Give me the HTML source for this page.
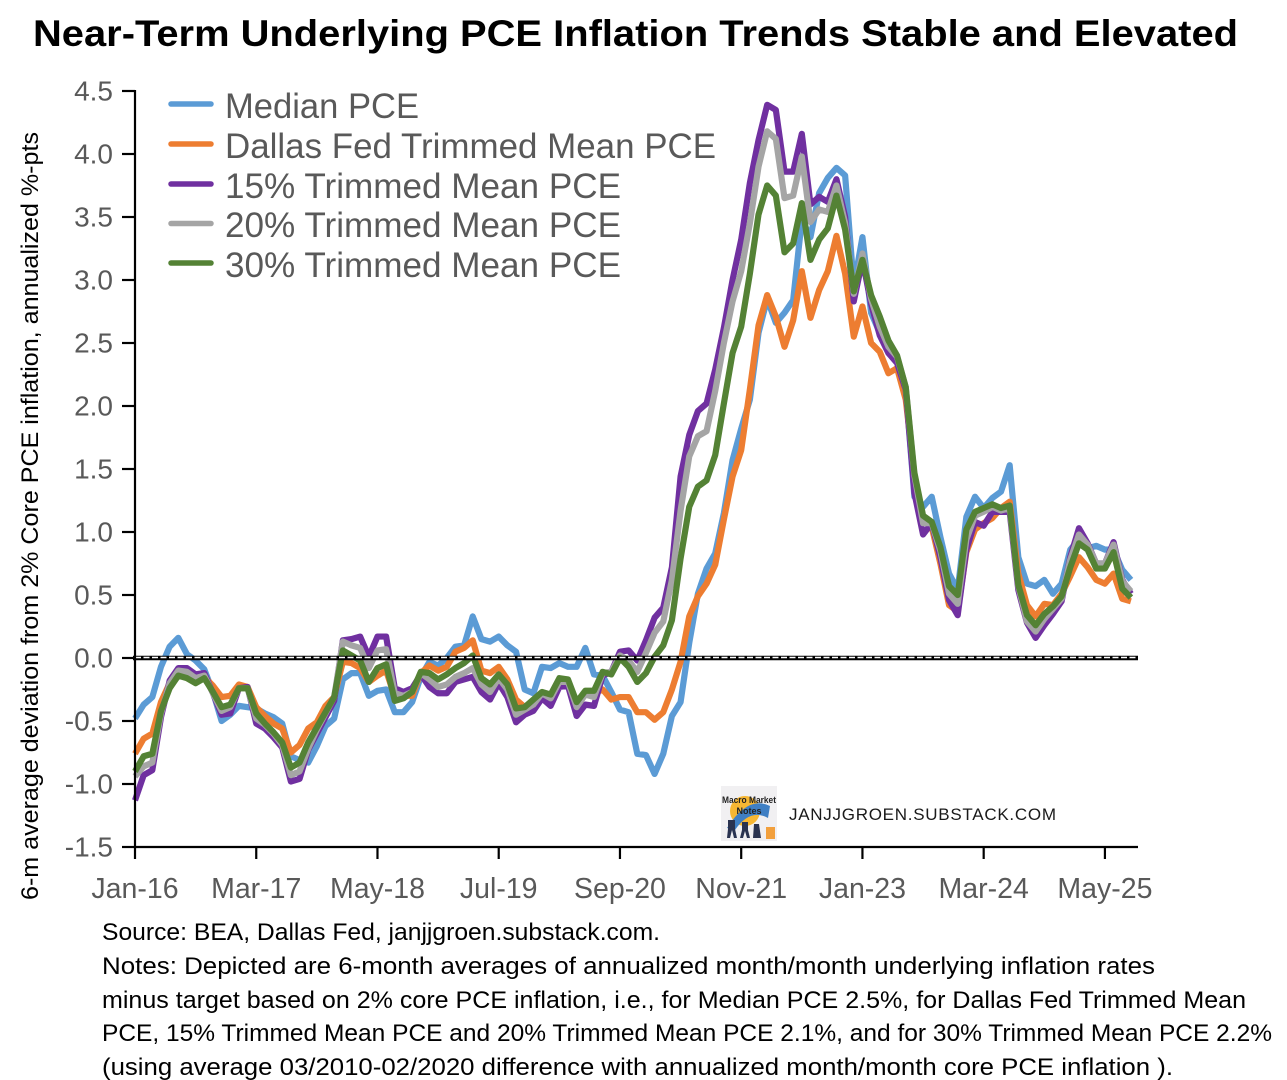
<!DOCTYPE html>
<html lang="en">
<head>
<meta charset="utf-8">
<title>Near-Term Underlying PCE Inflation Trends Stable and Elevated</title>
<style>
html,body{margin:0;padding:0;background:#fff;}
svg{display:block;}
text{font-family:"Liberation Sans",sans-serif;}
</style>
</head>
<body>
<svg id="chart" xmlns="http://www.w3.org/2000/svg" width="1287" height="1080" viewBox="0 0 1287 1080">
  <rect x="0" y="0" width="1287" height="1080" fill="#fff"/>
  <text x="33" y="46" font-size="37.5" font-weight="bold" fill="#000" textLength="1205" lengthAdjust="spacingAndGlyphs">Near-Term Underlying PCE Inflation Trends Stable and Elevated</text>
  <text transform="translate(38,900) rotate(-90)" font-size="24" fill="#000" textLength="768" lengthAdjust="spacingAndGlyphs">6-m average deviation from 2% Core PCE inflation, annualized %-pts</text>

  <g id="series-layer"></g>
  <g id="axis-layer"></g>

  <g>
    <g>
      <line x1="171" x2="211" y1="104" y2="104" stroke="#5B9BD5" stroke-width="5.5" stroke-linecap="round"/>
      <text x="225" y="118" font-size="35" fill="#595959" textLength="194" lengthAdjust="spacingAndGlyphs">Median PCE</text>
    </g>
    <g>
      <line x1="171" x2="211" y1="144" y2="144" stroke="#ED7D31" stroke-width="5.5" stroke-linecap="round"/>
      <text x="225" y="158" font-size="35" fill="#595959" textLength="491" lengthAdjust="spacingAndGlyphs">Dallas Fed Trimmed Mean PCE</text>
    </g>
    <g>
      <line x1="171" x2="211" y1="184" y2="184" stroke="#7030A0" stroke-width="5.5" stroke-linecap="round"/>
      <text x="225" y="198" font-size="35" fill="#595959" textLength="396" lengthAdjust="spacingAndGlyphs">15% Trimmed Mean PCE</text>
    </g>
    <g>
      <line x1="171" x2="211" y1="223.5" y2="223.5" stroke="#A5A5A5" stroke-width="5.5" stroke-linecap="round"/>
      <text x="225" y="237" font-size="35" fill="#595959" textLength="396" lengthAdjust="spacingAndGlyphs">20% Trimmed Mean PCE</text>
    </g>
    <g>
      <line x1="171" x2="211" y1="263" y2="263" stroke="#548235" stroke-width="5.5" stroke-linecap="round"/>
      <text x="225" y="277" font-size="35" fill="#595959" textLength="396" lengthAdjust="spacingAndGlyphs">30% Trimmed Mean PCE</text>
    </g>
  </g>

  <g>
    <rect x="721" y="786" width="56" height="55" fill="#f1f0f2"/>
    <circle cx="745" cy="811" r="15" fill="#f7b733"/>
    <path d="M727 828 Q748 795 770 806 L768 818 Q750 808 735 830 Z" fill="#3f7fc4"/>
    <rect x="766" y="827" width="9" height="12" fill="#f2a03d"/>
    <path d="M728 820h7v9l2 9h-3l-2-8-2 8h-3l1-9z M742 822h6v8l2 8h-3l-2-7-2 7h-3l2-8z M754 824h5l2 14h-8z" fill="#2a3350"/>
    <text x="749" y="803" font-size="9" font-weight="bold" text-anchor="middle" fill="#222" textLength="54" lengthAdjust="spacingAndGlyphs">Macro Market</text>
    <text x="749" y="814" font-size="9" font-weight="bold" text-anchor="middle" fill="#222" textLength="25" lengthAdjust="spacingAndGlyphs">Notes</text>
  </g>
  <text x="789" y="820" font-size="17" fill="#1a1a1a" textLength="267" lengthAdjust="spacing">JANJJGROEN.SUBSTACK.COM</text>

  <g font-size="24" fill="#000">
    <text x="102" y="940" textLength="558" lengthAdjust="spacingAndGlyphs">Source: BEA, Dallas Fed, janjjgroen.substack.com.</text>
    <text x="102" y="974" textLength="1053" lengthAdjust="spacingAndGlyphs">Notes: Depicted are 6-month averages of annualized month/month underlying inflation rates</text>
    <text x="102" y="1008" textLength="1144" lengthAdjust="spacingAndGlyphs">minus target based on 2% core PCE inflation, i.e., for Median PCE 2.5%, for Dallas Fed Trimmed Mean</text>
    <text x="102" y="1041" textLength="1170" lengthAdjust="spacingAndGlyphs">PCE, 15% Trimmed Mean PCE and 20% Trimmed Mean PCE 2.1%, and for 30% Trimmed Mean PCE 2.2%</text>
    <text x="102" y="1075" textLength="1071" lengthAdjust="spacingAndGlyphs">(using average 03/2010-02/2020 difference with annualized month/month core PCE inflation ).</text>
  </g>
</svg>
<script>
const medianPce = [-0.48,-0.37,-0.31,-0.07,0.09,0.16,0.03,-0.02,-0.09,-0.27,-0.50,-0.45,-0.38,-0.39,-0.40,-0.44,-0.47,-0.52,-0.78,-0.81,-0.83,-0.70,-0.54,-0.48,-0.17,-0.12,-0.12,-0.30,-0.26,-0.25,-0.43,-0.43,
  -0.35,-0.15,-0.03,-0.06,0.00,0.09,0.10,0.33,0.15,0.13,0.17,0.10,0.05,-0.25,-0.28,-0.07,-0.08,-0.04,-0.07,-0.07,0.08,-0.13,-0.14,-0.27,-0.41,-0.43,-0.76,-0.77,-0.92,-0.76,-0.46,-0.35,
  0.12,0.51,0.71,0.83,1.15,1.57,1.82,2.05,
  2.58,2.85,2.66,2.74,2.84,3.48,3.34,3.69,3.81,3.89,3.83,2.95,3.34,2.74,2.58,2.44,2.37,2.13,
  1.28,1.20,1.28,0.96,0.67,0.54,1.12,1.28,1.19,1.27,1.32,1.53,0.80,0.59,0.57,0.62,0.51,0.59,0.86,0.94,0.87,0.89,0.86,0.86,0.70,0.62];
const dallasTrimmed = [-0.76,-0.64,-0.60,-0.35,-0.20,-0.13,-0.15,-0.19,-0.15,-0.22,-0.31,-0.30,-0.21,-0.23,-0.39,-0.46,-0.52,-0.56,-0.75,-0.69,-0.56,-0.51,-0.38,-0.31,-0.03,-0.04,-0.08,-0.19,-0.14,-0.10,-0.31,-0.30,
  -0.30,-0.12,-0.06,-0.10,-0.07,0.05,0.08,0.14,-0.10,-0.12,-0.07,-0.17,-0.33,-0.39,-0.35,-0.32,-0.31,-0.17,-0.19,-0.36,-0.27,-0.28,-0.25,-0.33,-0.31,-0.31,-0.43,-0.43,-0.49,-0.43,-0.25,-0.03,
  0.33,0.49,0.59,0.74,1.10,1.44,1.65,2.13,
  2.64,2.88,2.71,2.47,2.68,3.07,2.70,2.92,3.07,3.35,3.05,2.55,2.79,2.50,2.43,2.26,2.30,2.05,
  1.45,1.10,1.04,0.75,0.42,0.37,0.84,1.02,1.07,1.11,1.19,1.24,0.67,0.42,0.33,0.43,0.42,0.51,0.65,0.80,0.72,0.62,0.59,0.67,0.47,0.45];
const trimmed15 = [-1.13,-0.93,-0.89,-0.47,-0.18,-0.08,-0.08,-0.13,-0.12,-0.28,-0.45,-0.44,-0.24,-0.23,-0.52,-0.56,-0.63,-0.71,-0.98,-0.96,-0.73,-0.60,-0.47,-0.34,0.14,0.15,0.17,0.01,0.17,0.17,-0.24,-0.27,
  -0.24,-0.13,-0.23,-0.28,-0.28,-0.19,-0.17,-0.15,-0.27,-0.33,-0.20,-0.31,-0.51,-0.45,-0.42,-0.32,-0.38,-0.23,-0.22,-0.46,-0.37,-0.38,-0.14,-0.11,0.05,0.06,-0.02,0.14,0.32,0.40,
  0.72,1.44,1.77,1.96,2.02,2.29,2.62,3.00,3.32,3.77,
  4.11,4.39,4.35,3.86,3.86,4.16,3.60,3.66,3.62,3.80,3.50,2.83,3.16,2.81,2.56,2.42,2.34,2.13,
  1.31,0.98,1.07,0.80,0.46,0.34,0.86,1.08,1.05,1.16,1.16,1.16,0.54,0.28,0.16,0.26,0.35,0.45,0.80,1.03,0.91,0.75,0.75,0.92,0.62,0.51];
const trimmed20 = [-0.94,-0.86,-0.83,-0.44,-0.20,-0.10,-0.11,-0.16,-0.14,-0.28,-0.42,-0.39,-0.24,-0.24,-0.48,-0.53,-0.60,-0.69,-0.93,-0.90,-0.72,-0.57,-0.44,-0.31,0.13,0.10,0.08,-0.08,0.06,0.07,-0.28,-0.30,
  -0.27,-0.12,-0.17,-0.23,-0.21,-0.15,-0.12,-0.08,-0.21,-0.27,-0.16,-0.25,-0.45,-0.41,-0.37,-0.28,-0.32,-0.19,-0.19,-0.39,-0.29,-0.31,-0.12,-0.11,0.02,-0.02,-0.11,0.04,0.20,0.29,
  0.62,1.17,1.60,1.76,1.80,2.12,2.50,2.83,3.07,3.45,
  3.90,4.18,4.12,3.65,3.67,3.98,3.46,3.56,3.54,3.75,3.45,2.89,3.21,2.85,2.63,2.47,2.39,2.15,
  1.45,1.07,1.07,0.85,0.51,0.43,0.94,1.13,1.16,1.20,1.17,1.19,0.57,0.29,0.21,0.31,0.39,0.47,0.78,0.98,0.90,0.75,0.75,0.90,0.61,0.53];
const trimmed30 = [-0.90,-0.78,-0.76,-0.42,-0.24,-0.14,-0.16,-0.20,-0.16,-0.27,-0.39,-0.37,-0.24,-0.24,-0.44,-0.52,-0.59,-0.67,-0.87,-0.83,-0.67,-0.55,-0.43,-0.31,0.06,0.02,-0.02,-0.19,-0.08,-0.05,-0.34,-0.32,
  -0.27,-0.11,-0.12,-0.17,-0.13,-0.08,-0.04,0.02,-0.16,-0.21,-0.13,-0.21,-0.40,-0.39,-0.33,-0.27,-0.29,-0.16,-0.17,-0.35,-0.26,-0.26,-0.11,-0.13,0.00,-0.07,-0.19,-0.12,0.01,0.10,
  0.30,0.79,1.20,1.36,1.41,1.61,2.02,2.42,2.63,3.05,
  3.52,3.75,3.67,3.22,3.29,3.61,3.16,3.32,3.41,3.67,3.40,2.91,3.16,2.88,2.71,2.52,2.40,2.15,
  1.47,1.13,1.08,0.88,0.57,0.50,1.02,1.16,1.19,1.22,1.19,1.21,0.58,0.34,0.26,0.35,0.41,0.49,0.72,0.91,0.86,0.71,0.71,0.84,0.55,0.48];
const xTickLabels = ["Jan-16","Mar-17","May-18","Jul-19","Sep-20","Nov-21","Jan-23","Mar-24","May-25"];
const yTickValues = [-1.5,-1.0,-0.5,0.0,0.5,1.0,1.5,2.0,2.5,3.0,3.5,4.0,4.5];
const monthsPerTick = 14;

const NS = "http://www.w3.org/2000/svg";
const plotLeft = 135, plotRight = 1138, plotTop = 91, plotBottom = 847;
const monthWidth = 8.66;
const yMin = yTickValues[0], yMax = yTickValues[yTickValues.length - 1];
function xScale(i) { return plotLeft + i * monthWidth; }
function yScale(v) { return plotBottom - (v - yMin) / (yMax - yMin) * (plotBottom - plotTop); }
function make(tag) { return document.createElementNS(NS, tag); }

const seriesLayer = document.getElementById("series-layer");
const axisLayer = document.getElementById("axis-layer");

function drawSeries(values, color, name) {
  const p = make("polyline");
  
  
  p.setAttribute("points", values.map(function (v, i) { return xScale(i).toFixed(2) + "," + yScale(v).toFixed(2); }).join(" "));
  p.setAttribute("fill", "none");
  p.setAttribute("stroke", color);
  p.setAttribute("stroke-width", "6.2");
  p.setAttribute("stroke-linejoin", "round");
  seriesLayer.appendChild(p);
}
drawSeries(medianPce, "#5B9BD5", "line-median-pce");
drawSeries(dallasTrimmed, "#ED7D31", "line-dallas-trimmed-mean");
drawSeries(trimmed15, "#7030A0", "line-15pct-trimmed-mean");
drawSeries(trimmed20, "#A5A5A5", "line-20pct-trimmed-mean");
drawSeries(trimmed30, "#548235", "line-30pct-trimmed-mean");

function drawLine(x1, y1, x2, y2, w, color, name) {
  const l = make("line");
  
  
  l.setAttribute("x1", x1);
  l.setAttribute("y1", y1);
  l.setAttribute("x2", x2);
  l.setAttribute("y2", y2);
  l.setAttribute("stroke", color);
  l.setAttribute("stroke-width", w);
  axisLayer.appendChild(l);
  return l;
}

const zeroY = yScale(0);
drawLine(plotLeft - 2, zeroY, plotRight, zeroY, 4.6, "#000", "zero-line");
const zeroDash = drawLine(plotLeft, zeroY - 0.5, plotRight, zeroY - 0.5, 1.5, "#fff", "zero-line-dashes");
zeroDash.setAttribute("stroke-dasharray", "6 2.5");

drawLine(plotLeft, plotTop - 1, plotLeft, plotBottom + 1, 2.2, "#000", "y-axis-line");
drawLine(plotLeft - 1, plotBottom, plotRight, plotBottom, 2.2, "#000", "x-axis-line");

yTickValues.forEach(function (v) {
  const y = yScale(v);
  drawLine(plotLeft - 13, y, plotLeft, y, 2.2, "#000", "y-tick");
  const t = make("text");
  
  
  t.setAttribute("x", plotLeft - 22);
  t.setAttribute("y", y + 9.5);
  t.setAttribute("text-anchor", "end");
  t.setAttribute("font-size", "28");
  t.setAttribute("fill", "#595959");
  t.textContent = v.toFixed(1);
  axisLayer.appendChild(t);
});

xTickLabels.forEach(function (label, k) {
  const x = xScale(k * monthsPerTick);
  drawLine(x, plotBottom, x, plotBottom + 12, 2.2, "#000", "x-tick");
  const t = make("text");
  
  
  t.setAttribute("x", x);
  t.setAttribute("y", 898);
  t.setAttribute("text-anchor", "middle");
  t.setAttribute("font-size", "28.5");
  t.setAttribute("fill", "#595959");
  t.textContent = label;
  axisLayer.appendChild(t);
});
</script>
</body>
</html>
